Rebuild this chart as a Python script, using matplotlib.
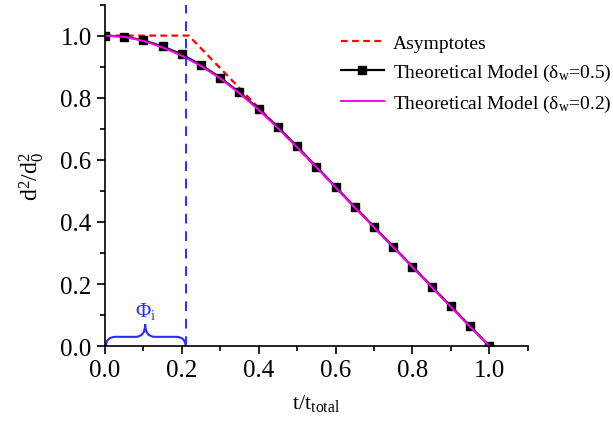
import numpy as np
import matplotlib
matplotlib.use("Agg")
import matplotlib.pyplot as plt
from matplotlib.path import Path
from matplotlib.patches import PathPatch
from matplotlib.ticker import MultipleLocator, FormatStrFormatter

plt.rcParams['font.family'] = ['Liberation Serif', 'DejaVu Serif']
plt.rcParams['mathtext.fontset'] = 'custom'
plt.rcParams['mathtext.rm'] = 'Liberation Serif'
plt.rcParams['mathtext.it'] = 'Liberation Serif:italic'

# normalised time and squared diameter
t = [0.0, 0.05, 0.10, 0.15, 0.20, 0.25, 0.30, 0.35, 0.40, 0.45, 0.50,
     0.55, 0.60, 0.65, 0.70, 0.75, 0.80, 0.85, 0.90, 0.95, 1.0]
d2_w05 = [1.0, 0.997, 0.985, 0.965, 0.940, 0.905, 0.865, 0.817, 0.764, 0.705, 0.643,
          0.578, 0.513, 0.448, 0.384, 0.320, 0.256, 0.192, 0.128, 0.064, 0.0]
d2_w02 = [1.0, 0.996, 0.983, 0.962, 0.935, 0.902, 0.862, 0.814, 0.761, 0.702, 0.640,
          0.576, 0.511, 0.446, 0.382, 0.318, 0.254, 0.190, 0.126, 0.062, 0.0]

# asymptotes: constant diameter, then the linear d2-law
asym_t = [0.0, 0.218, 1.0]
asym_d2 = [1.0, 1.0, 0.0]
phi_i = 0.21

fig = plt.figure(figsize=(6.13, 4.27), dpi=100)
ax = fig.add_axes([0.171, 0.187, 0.69, 0.80])

ax.plot(asym_t, asym_d2, '--', color='red', lw=1.6, label='Asymptotes', dashes=(3, 2))
ax.plot(t, d2_w05, '-', color='black', lw=1.6, marker='s', ms=5.5,
        label=r'Theoretical Model ($\mathregular{\delta_w}$=0.5)')
ax.plot(t, d2_w02, '-', color='magenta', lw=1.4,
        label=r'Theoretical Model ($\mathregular{\delta_w}$=0.2)')
ax.axvline(phi_i, color='#2b2bff', lw=1.4, ls=(0, (5, 4)))

# curly brace marking the induction period
x0, x1, xm = 0.003, phi_i, phi_i / 2
yb, yh, yt = 0.0, 0.03, 0.07
dx = 0.025
verts = [(x0, yb), (x0, yh), (x0 + dx, yh),
         (xm - dx, yh), (xm, yh), (xm, yt),
         (xm, yh), (xm + dx, yh),
         (x1 - dx, yh), (x1, yh), (x1, yb)]
codes = [Path.MOVETO, Path.CURVE3, Path.CURVE3,
         Path.LINETO, Path.CURVE3, Path.CURVE3,
         Path.CURVE3, Path.CURVE3,
         Path.LINETO, Path.CURVE3, Path.CURVE3]
ax.add_patch(PathPatch(Path(verts, codes), fill=False, ec='#2b2bff', lw=1.5, clip_on=False))
ax.text(xm, 0.08, r'$\mathregular{\Phi_i}$', color='#2b2bff', fontsize=15,
        ha='center', va='bottom')

ax.set_xlim(0, 1.1)
ax.set_ylim(0, 1.1)
ax.xaxis.set_minor_locator(MultipleLocator(0.1))
ax.yaxis.set_minor_locator(MultipleLocator(0.1))
ax.set_xticks([0, 0.2, 0.4, 0.6, 0.8, 1.0])
ax.set_yticks([0, 0.2, 0.4, 0.6, 0.8, 1.0])
ax.xaxis.set_major_formatter(FormatStrFormatter('%.1f'))
ax.yaxis.set_major_formatter(FormatStrFormatter('%.1f'))
ax.tick_params(which='major', direction='out', length=6, width=1.2, labelsize=18)
ax.tick_params(which='minor', direction='out', length=3.5, width=1.2)
ax.spines['top'].set_visible(False)
ax.spines['right'].set_visible(False)
for s in ('left', 'bottom'):
    ax.spines[s].set_linewidth(1.2)

ax.set_xlabel(r't/t$\mathregular{_{total}}$', fontsize=16, labelpad=8)
ax.set_ylabel(r'd$\mathregular{^2}$/d$\mathregular{_0^2}$', fontsize=17, labelpad=10)

ax.legend(loc='upper left', bbox_to_anchor=(0.54, 0.935), borderaxespad=0,
          frameon=False, fontsize=14, handlelength=2.2, handletextpad=0.45,
          labelspacing=0.5)

fig.savefig('out.png', dpi=100)
